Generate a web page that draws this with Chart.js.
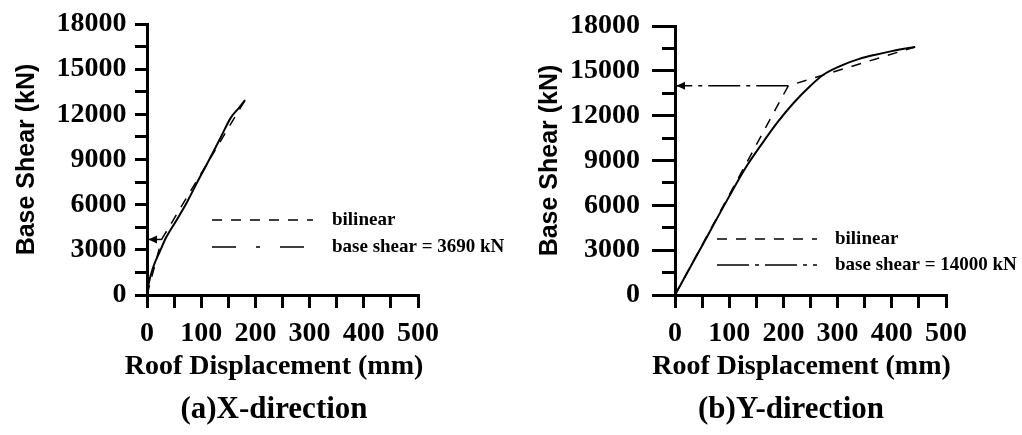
<!DOCTYPE html>
<html>
<head>
<meta charset="utf-8">
<script src="https://cdn.jsdelivr.net/npm/chart.js@4.4.1/dist/chart.umd.min.js"></script>
<style>
  html, body { margin: 0; padding: 0; background: #fff; }
  #wrap { position: relative; width: 1022px; height: 435px; }
  canvas { position: absolute; top: 0; }
  #chartX { left: 0; }
  #chartY { left: 511px; }
</style>
</head>
<body>
<div id="wrap">
  <canvas id="chartX" width="511" height="435"></canvas>
  <canvas id="chartY" width="511" height="435"></canvas>
</div>
<script>
const dispTickLabels = [0, 100, 200, 300, 400, 500];
const shearTickLabels = [0, 3000, 6000, 9000, 12000, 15000, 18000];

// (a) X-direction
const xDisp  = [0, 1.5, 4, 8, 14, 22, 35, 55, 75, 95, 115, 135, 155, 170, 181];
const xShear = [0, 400, 900, 1450, 2100, 2750, 3800, 5000, 6250, 7650, 9000, 10400, 11800, 12450, 12950];
const xBilinDisp  = [0, 27, 181];
const xBilinShear = [0, 3690, 12950];
const xBaseShear = 3690;
const xLegend = ['bilinear', 'base shear = 3690 kN'];

// (b) Y-direction
const yDisp  = [0, 50, 100, 130, 160, 190, 220, 250, 273, 310, 340, 370, 400, 443];
const yShear = [0, 3300, 6600, 8500, 10100, 11600, 12900, 14000, 14720, 15400, 15800, 16080, 16320, 16600];
const yBilinDisp  = [0, 209, 443];
const yBilinShear = [0, 14000, 16600];
const yBaseShear = 14000;
const yLegend = ['bilinear', 'base shear = 14000 kN'];

const serifName = "'Liberation Serif', 'Times New Roman', serif";
const serif = size => ({ family: serifName, size: size, weight: 'bold', lineHeight: 1 });
const sans = size => ({ family: "'Liberation Sans', Arial, sans-serif", size: size, weight: 'bold', lineHeight: 1 });

// arrowhead, inline legend, x title and caption
const extras = {
  id: 'extras',
  afterDatasetsDraw(chart, args, opts) {
    const ctx = chart.ctx, ca = chart.chartArea;
    const mid = (ca.left + ca.right) / 2;
    ctx.save();
    chart.data.datasets.forEach((ds, i) => {
      if (!ds.arrow) return;
      const pts = chart.getDatasetMeta(i).data;
      const p = pts[pts.length - 1];
      ctx.fillStyle = '#000';
      ctx.beginPath();
      ctx.moveTo(ca.left + 1.5, p.y);
      ctx.lineTo(ca.left + 10, p.y - 4);
      ctx.lineTo(ca.left + 10, p.y + 4);
      ctx.closePath();
      ctx.fill();
    });

    const lg = opts.legend;
    let row = 0;
    chart.data.datasets.forEach(ds => {
      if (!ds.label) return;
      const y = ca.top + lg.rows[row++];
      ctx.strokeStyle = '#000';
      ctx.lineWidth = ds.borderWidth;
      ctx.setLineDash(ds.borderDash || []);
      ctx.beginPath();
      ctx.moveTo(ca.left + lg.x0, y);
      ctx.lineTo(ca.left + lg.x1, y);
      ctx.stroke();
      ctx.setLineDash([]);
      ctx.fillStyle = '#000';
      ctx.font = 'bold 19px ' + serifName;
      ctx.textAlign = 'left';
      ctx.textBaseline = 'middle';
      ctx.fillText(ds.label, ca.left + lg.tx, y);
    });

    ctx.fillStyle = '#000';
    ctx.textAlign = 'center';
    ctx.textBaseline = 'middle';
    ctx.font = 'bold 28px ' + serifName;
    ctx.fillText('Roof Displacement (mm)', mid + opts.xTitleDx, 367);
    const cap = opts.caption;
    ctx.font = 'bold 31px ' + serifName;
    ctx.fillText(cap.text, mid + cap.dx, cap.y);
    ctx.restore();
  }
};

function buildChart(id, s) {
  const pts = (xs, ys) => xs.map((x, i) => ({ x: x, y: ys[i] }));
  return new Chart(document.getElementById(id), {
    type: 'line',
    data: {
      datasets: [
        {
          data: pts(s.disp, s.shear),
          borderColor: '#000', borderWidth: 2, pointRadius: 0,
          cubicInterpolationMode: 'monotone'
        },
        {
          label: s.legend[0],
          data: pts(s.bilinDisp, s.bilinShear),
          borderColor: '#000', borderWidth: 1.5, borderDash: [10, 9], pointRadius: 0
        },
        {
          label: s.legend[1],
          data: [{ x: s.bilinDisp[1], y: s.baseShear }, { x: 0, y: s.baseShear }],
          borderColor: '#000', borderWidth: 1.5, borderDash: s.baseDash, pointRadius: 0,
          arrow: true
        }
      ]
    },
    options: {
      responsive: false,
      animation: false,
      events: [],
      layout: { padding: { left: 0, right: s.padRight, top: 24, bottom: 50 } },
      scales: {
        x: {
          type: 'linear', min: 0, max: 500,
          afterFit: sc => { sc.height = 90; },
          border: { color: '#000', width: 3 },
          grid: { drawOnChartArea: false, tickLength: 13, tickWidth: 3, tickColor: '#000', color: '#000', lineWidth: 3 },
          ticks: {
            stepSize: 50, autoSkip: false, maxRotation: 0, padding: 12, color: '#000', font: serif(28),
            callback: v => dispTickLabels.includes(v) ? String(v) : ''
          },
          title: { display: false }
        },
        y: {
          type: 'linear', min: 0, max: 18000,
          afterFit: sc => { sc.width = s.yWidth; },
          border: { color: '#000', width: 3 },
          grid: {
            drawOnChartArea: false, tickLength: s.yTick, tickWidth: 3, tickColor: '#000', color: '#000', lineWidth: 3,
            tickBorderDash: c => (s.minorDash && c.tick && !shearTickLabels.includes(c.tick.value)) ? s.minorDash : []
          },
          ticks: {
            stepSize: 1500, autoSkip: false, padding: s.yPad, color: '#000', font: serif(28),
            callback: v => shearTickLabels.includes(v) ? String(v) : ''
          },
          title: { display: true, text: 'Base Shear (kN)', color: '#000', font: sans(25), padding: { top: s.titlePad, bottom: 0 } }
        }
      },
      plugins: {
        legend: { display: false },
        tooltip: { enabled: false },
        extras: { legend: s.legendPos, caption: s.caption, xTitleDx: s.xTitleDx }
      }
    },
    plugins: [extras]
  });
}

buildChart('chartX', {
  disp: xDisp, shear: xShear, bilinDisp: xBilinDisp, bilinShear: xBilinShear,
  baseShear: xBaseShear, legend: xLegend, baseDash: [24, 20, 4, 20],
  yWidth: 147, yTick: 12, yPad: 8.5, titlePad: 15, padRight: 93, xTitleDx: -8.5,
  legendPos: { x0: 65, x1: 166, tx: 185, rows: [196, 223] },
  caption: { text: '(a)X-direction', dx: -8.5, y: 410 }
});

buildChart('chartY', {
  disp: yDisp, shear: yShear, bilinDisp: yBilinDisp, bilinShear: yBilinShear,
  baseShear: yBaseShear, legend: yLegend, baseDash: [32, 6, 4, 6],
  yWidth: 164, yTick: 23, yPad: 12, titlePad: 26.5, padRight: 76, minorDash: [0, 10, 100], xTitleDx: -9,
  legendPos: { x0: 42, x1: 142, tx: 160, rows: [213, 239] },
  caption: { text: '(b)Y-direction', dx: -19.5, y: 410 }
});
</script>
</body>
</html>
